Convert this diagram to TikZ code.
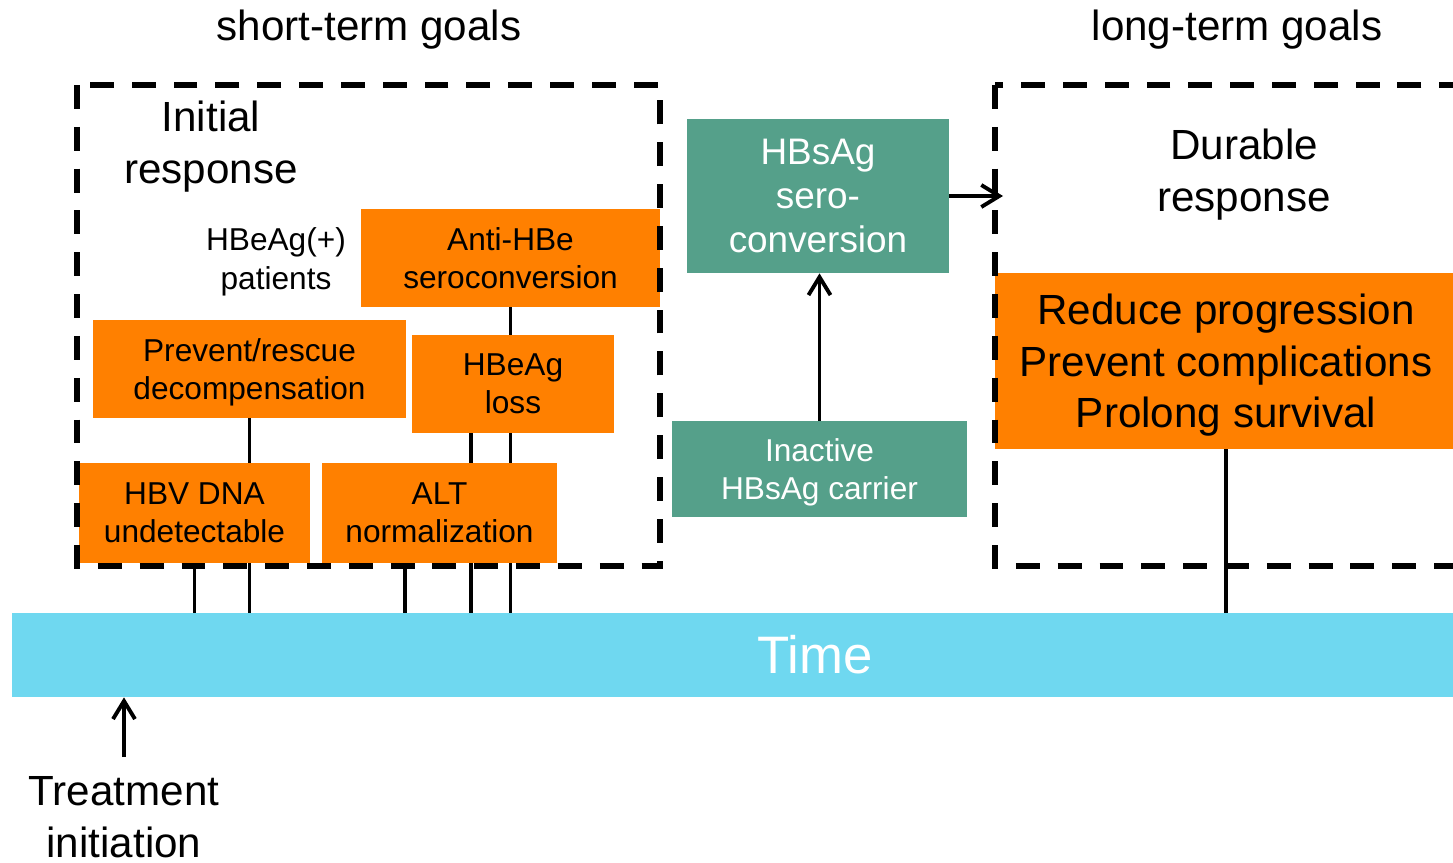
\documentclass[tikz,border=0pt]{standalone}
\usepackage{fontspec}
\setmainfont{Liberation Sans}
\usetikzlibrary{positioning, arrows.meta, backgrounds}

\definecolor{goalorange}{RGB}{255,128,0}
\definecolor{carriergreen}{RGB}{85,160,138}
\definecolor{timecyan}{RGB}{111,216,240}

\tikzset{
    goalbox/.style={fill=goalorange, inner sep=0pt, align=center, text depth=0pt, font=\fontsize{18}{21.6}\selectfont},
    greenbox/.style={fill=carriergreen, text=white, inner sep=0pt, align=center, text depth=0pt},
    frame/.style={dash pattern=on 13.6pt off 10.2pt, line width=3pt},
    link/.style={line width=2.2pt},
    uparrow/.style={line width=2.2pt, -{Straight Barb[length=3.6mm, width=4.4mm, line width=2.2pt]}}
}

\begin{document}
\begin{tikzpicture}[every node/.style={font=\fontsize{24}{29.6}\selectfont}]
        \useasboundingbox (0,0) rectangle (29.06,-17.26);
        \clip (0,0) rectangle (29.06,-17.26);
        % headings
        \node (short) at (7.38,-0.6) {short-term goals};
        \node (long) at (24.74,-0.6) {long-term goals};
        \node[align=center] (initial) at (4.22,-2.94) {Initial\\response};
        \node[align=center] (durable) at (24.88,-3.5) {Durable\\response};
        \node[align=center, font=\fontsize{18}{22}\selectfont] (hbeagpos) at (5.52,-5.24) {HBeAg(+)\\patients};
        % goals
        \node[goalbox, minimum width=5.98cm, minimum height=1.96cm] (antihbe) at (10.21,-5.16) {Anti-HBe\\seroconversion};
        \node[goalbox, minimum width=6.26cm, minimum height=1.96cm] (prevent) at (4.99,-7.38) {Prevent/rescue\\decompensation};
        \node[goalbox, minimum width=4.04cm, minimum height=1.96cm] (loss) at (10.26,-7.68) {HBeAg\\loss};
        \node[goalbox, minimum width=4.62cm, minimum height=2cm] (hbvdna) at (3.89,-10.26) {HBV DNA\\undetectable};
        \node[goalbox, minimum width=4.70cm, minimum height=2cm] (alt) at (8.79,-10.26) {ALT\\normalization};
        \node[goalbox, font=\fontsize{24}{29.4}\selectfont, minimum width=9.24cm, minimum height=3.52cm] (reduce) at (24.52,-7.22) {Reduce progression\\Prevent complications\\Prolong survival};
        \node[greenbox, font=\fontsize{21}{25}\selectfont, minimum width=5.24cm, minimum height=3.08cm] (serocon) at (16.36,-3.92) {HBsAg\\sero-\\conversion};
        \node[greenbox, font=\fontsize{18}{21.6}\selectfont, minimum width=5.9cm, minimum height=1.92cm] (inactive) at (16.39,-9.38) {Inactive\\HBsAg carrier};
        % time line
        \node[fill=timecyan, text=white, font=\fontsize{30}{36}\selectfont, minimum width=32.12cm, minimum height=1.68cm, inner sep=0pt] (time) at (16.3,-13.1) {Time};
        \node[align=center, anchor=north, inner sep=0pt] (treat) at (2.48,-15.52) {Treatment\\initiation};
        \coordinate (durin) at (20.06,-3.92);
        \begin{scope}[on background layer]
            \foreach \n/\dx in {hbvdna/0, prevent/0, alt/-0.69, loss/-0.84, antihbe/0, reduce/0}
            {
                \draw[link] ([xshift=\dx cm]\n.south) -- ([xshift=\dx cm]\n.south |- time.north);
            }
        \end{scope}
        \draw[uparrow] (serocon.east) -- (durin);
        \draw[uparrow] (inactive.north) -- (inactive.north |- serocon.south);
        \draw[uparrow] ([yshift=0.38cm]treat.north) -- (treat.north |- time.south);
        % dashed frames
        \draw[frame] (1.54,-1.70) rectangle (13.2,-11.32);
        \draw[frame] (19.9,-1.70) rectangle (29.6,-11.32);
    \end{tikzpicture}
\end{document}
